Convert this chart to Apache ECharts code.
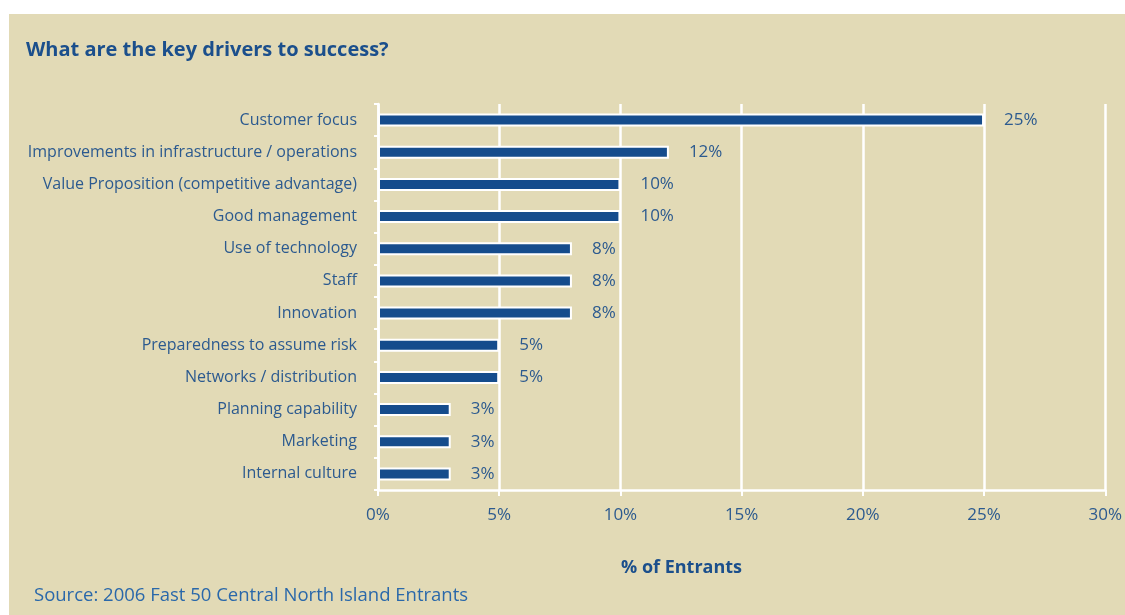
<!DOCTYPE html>
<html>
<head>
<meta charset="utf-8">
<script src="https://cdn.jsdelivr.net/npm/echarts@6/dist/echarts.min.js"></script>
<style>
  html, body { margin: 0; padding: 0; background: #ffffff; }
  #chart { width: 1125px; height: 615px; }
</style>
</head>
<body>
<div id="chart"></div>
<script>
// Drivers of success, share of entrants (%)
const categories = [
  'Customer focus',
  'Improvements in infrastructure / operations',
  'Value Proposition (competitive advantage)',
  'Good management',
  'Use of technology',
  'Staff',
  'Innovation',
  'Preparedness to assume risk',
  'Networks / distribution',
  'Planning capability',
  'Marketing',
  'Internal culture'
];
const shares = [25, 12, 10, 10, 8, 8, 8, 5, 5, 3, 3, 3];
const xTicks = [0, 5, 10, 15, 20, 25, 30];

const FONT = '"Open Sans", "Noto Sans", sans-serif';
const TEXT_BLUE = '#2c5a8f';
const BAR_BLUE = '#154c8c';

const chart = echarts.init(document.getElementById('chart'), null, { renderer: 'canvas' });

chart.setOption({
  backgroundColor: '#ffffff',
  animation: false,
  graphic: [
    {
      type: 'rect', z: -10, silent: true,
      shape: { x: 9, y: 14, width: 1125 - 9, height: 615 - 14 },
      style: { fill: '#e2dab6' }
    },
    {
      type: 'text', left: 26, top: 40,
      style: { text: 'What are the key drivers to success?', fill: '#1b4f8c',
               font: 'bold 20px ' + FONT }
    },
    {
      type: 'text', left: 621, top: 559,
      style: { text: '% of Entrants', fill: '#1b4f8c', font: 'bold 18px ' + FONT }
    },
    {
      type: 'text', left: 34, top: 586,
      style: { text: 'Source: 2006 Fast 50 Central North Island Entrants', fill: '#2a68aa',
               font: '18.5px ' + FONT }
    }
  ],
  grid: { left: 378, right: 19, top: 104, bottom: 125, containLabel: false },
  xAxis: {
    type: 'value',
    min: xTicks[0],
    max: xTicks[xTicks.length - 1],
    interval: 5,
    axisLine: { show: true, lineStyle: { color: '#ffffff', width: 2.5 } },
    axisTick: { show: true, length: 6, inside: false, lineStyle: { color: '#ffffff', width: 2 } },
    splitLine: { show: true, lineStyle: { color: '#ffffff', width: 2.5 } },
    axisLabel: {
      color: TEXT_BLUE, fontFamily: FONT, fontSize: 17, margin: 17,
      formatter: v => v + '%'
    }
  },
  yAxis: {
    type: 'category',
    data: categories,
    inverse: true,
    axisLine: { show: true, lineStyle: { color: '#ffffff', width: 2.5 } },
    axisTick: { show: true, length: 4, lineStyle: { color: '#ffffff', width: 2 } },
    splitLine: { show: false },
    axisLabel: { color: TEXT_BLUE, fontFamily: FONT, fontSize: 16, margin: 21 }
  },
  series: [{
    type: 'bar',
    data: shares,
    barWidth: 13,
    itemStyle: { color: BAR_BLUE, borderColor: '#ffffff', borderWidth: 2 },
    label: {
      show: true, position: 'right', distance: 20,
      color: TEXT_BLUE, fontFamily: FONT, fontSize: 17,
      formatter: p => p.value + '%'
    }
  }]
});
</script>
</body>
</html>
